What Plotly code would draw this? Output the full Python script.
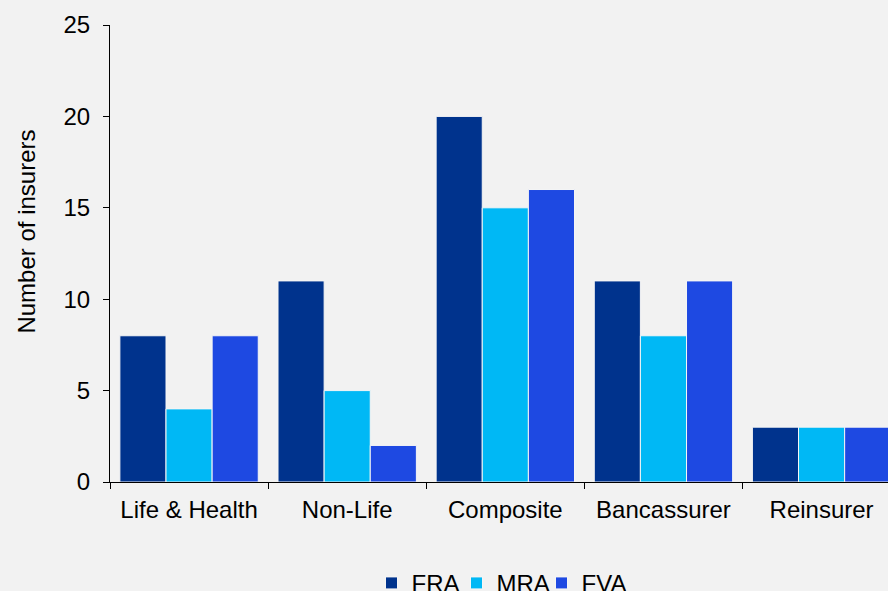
import plotly.graph_objects as go

categories = ['Life & Health', 'Non-Life', 'Composite', 'Bancassurer', 'Reinsurer']
fra = [8, 11, 20, 11, 3]
mra = [4, 5, 15, 8, 3]
fva = [8, 2, 16, 11, 3]

series = [('FRA', fra, '#00338D'), ('MRA', mra, '#00B8F5'), ('FVA', fva, '#1E49E2')]
font = 'Liberation Sans, Arial, sans-serif'

fig = go.Figure()
for name, vals, col in series:
    fig.add_trace(go.Bar(x=categories, y=vals, name=name, marker_color=col,
                         marker_line_color='#f5f5f5', marker_line_width=1))

fig.update_layout(
    width=888, height=591,
    barmode='group', bargap=0.125, bargroupgap=0,
    paper_bgcolor='#f2f2f2', plot_bgcolor='#f2f2f2',
    font=dict(family=font, size=24, color='black'),
    margin=dict(l=110, r=0, t=25, b=109, autoexpand=False),
    showlegend=True,
    legend=dict(orientation='h', x=0.5, xanchor='center', yref='container', y=0.013,
                yanchor='middle', font=dict(size=24), itemwidth=30, traceorder='normal',
                entrywidth=40, entrywidthmode='pixels'),
    xaxis=dict(range=[-0.5, 4.42], showline=True, linecolor='black', linewidth=1,
               ticks='outside', tickson='boundaries', ticklen=6, tickcolor='black',
               showgrid=False, ticklabelstandoff=6, automargin=False),
    yaxis=dict(range=[0, 25], dtick=5, showline=True, linecolor='black', linewidth=1,
               ticks='outside', ticklen=6, tickcolor='black', showgrid=False,
               zeroline=False, ticklabelstandoff=8, automargin=False),
    annotations=[dict(text='Number of insurers', textangle=-90, xref='paper', yref='paper',
                      x=0, y=0.548, xanchor='center', yanchor='middle', xshift=-83,
                      showarrow=False, font=dict(size=24))],
)

fig.write_html('out.html', config={'displayModeBar': False},
               post_script="document.body.style.margin='0';document.body.style.background='#f2f2f2';document.body.style.overflow='hidden';")
